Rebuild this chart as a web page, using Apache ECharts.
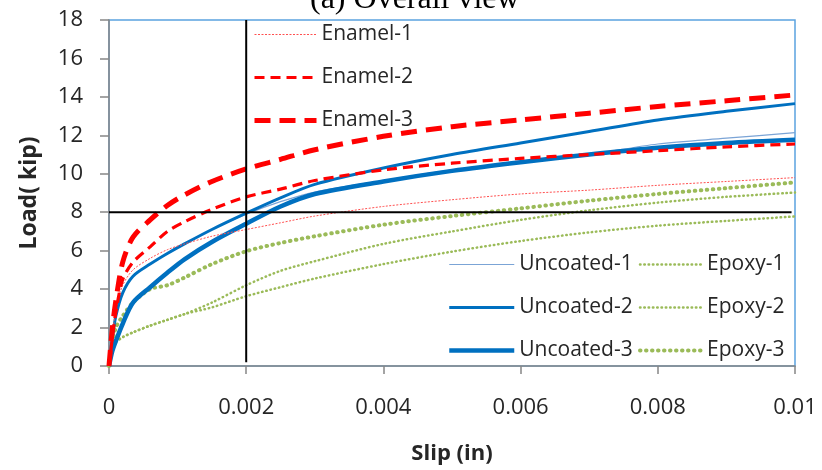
<!DOCTYPE html>
<html>
<head>
<meta charset="utf-8">
<script src="https://cdn.jsdelivr.net/npm/echarts@6/dist/echarts.min.js"></script>
<style>
html,body{margin:0;padding:0;background:#fff;}
#chart{width:822px;height:470px;}
</style>
</head>
<body>
<div id="chart"></div>
<script>
// ---- data (slip in inches, load in kip) ----
const slip = [0, 0.00005, 0.0001, 0.0002, 0.00035, 0.0006, 0.00085, 0.0011, 0.0015, 0.002, 0.0025, 0.003, 0.004, 0.005, 0.006, 0.007, 0.008, 0.009, 0.01];
const enamel1 = [0, 1.5, 3.0, 4.2, 5.0, 5.6, 6.05, 6.35, 6.75, 7.1, 7.45, 7.8, 8.3, 8.65, 8.95, 9.15, 9.4, 9.6, 9.8];
const enamel2 = [0, 1.5, 2.8, 4.5, 5.4, 6.2, 7.0, 7.5, 8.15, 8.8, 9.2, 9.65, 10.2, 10.55, 10.8, 11.0, 11.2, 11.4, 11.55];
const enamel3 = [0, 2.0, 3.4, 5.4, 6.7, 7.6, 8.35, 8.9, 9.6, 10.25, 10.75, 11.25, 11.95, 12.45, 12.8, 13.15, 13.5, 13.8, 14.1];
const uncoated1 = [0, 1.5, 2.6, 3.8, 4.67, 5.3, 5.85, 6.35, 7.1, 7.9, 8.55, 9.05, 9.65, 10.2, 10.6, 11.0, 11.55, 11.85, 12.14];
const uncoated2 = [0, 1.5, 2.6, 3.8, 4.67, 5.3, 5.85, 6.35, 7.1, 7.95, 8.75, 9.45, 10.3, 11.0, 11.6, 12.2, 12.8, 13.25, 13.65];
const uncoated3 = [0, 0.8, 1.3, 2.2, 3.3, 4.1, 4.85, 5.55, 6.45, 7.4, 8.3, 8.95, 9.6, 10.15, 10.6, 11.0, 11.35, 11.6, 11.77];
const epoxy1 = [0, 1.0, 1.25, 1.5, 1.75, 2.1, 2.4, 2.7, 3.05, 3.63, 4.1, 4.55, 5.3, 5.95, 6.5, 6.95, 7.3, 7.55, 7.78];
const epoxy2 = [0, 1.0, 1.25, 1.5, 1.75, 2.1, 2.4, 2.7, 3.3, 4.2, 4.95, 5.45, 6.35, 7.0, 7.6, 8.1, 8.5, 8.8, 9.02];
const epoxy3 = [0, 1.2, 2.0, 2.6, 3.3, 4.0, 4.2, 4.6, 5.3, 5.97, 6.4, 6.75, 7.35, 7.8, 8.2, 8.6, 8.95, 9.25, 9.55];
// reference cross lines
const refSlip = 0.002;
const refLoad = 8;
const vLineLoads = [0.2, 18];
const hLineSlips = [0, 0.00995];
const xTicks = ['0', '0.002', '0.004', '0.006', '0.008', '0.01'];
const enamelNames = ['Enamel-1', 'Enamel-2', 'Enamel-3'];
const uncoatedNames = ['Uncoated-1', 'Uncoated-2', 'Uncoated-3'];
const epoxyNames = ['Epoxy-1', 'Epoxy-2', 'Epoxy-3'];

const pair = ys => slip.map((x, i) => [x, ys[i]]);
const chart = echarts.init(document.getElementById('chart'));
const FONT = '"Open Sans", "Liberation Sans", sans-serif';
const RED = '#FF0000', BLUE = '#0070C0', GREEN = '#9BBB59';

function mk(name, ys, color, width, type, cap) {
  return {
    name, type: 'line', data: pair(ys), symbol: 'none', smooth: 0.3,
    lineStyle: { color, width, type, cap: cap || 'butt', join: 'round' }, itemStyle: { color },
    emphasis: { disabled: true }
  };
}

const series = [
  mk('Epoxy-1', epoxy1, GREEN, 2.5, [0.5, 3.8], 'round'),
  mk('Epoxy-2', epoxy2, GREEN, 2.5, [0.5, 3.8], 'round'),
  mk('Epoxy-3', epoxy3, GREEN, 4, [0.5, 5.5], 'round'),
  mk('Uncoated-1', uncoated1, '#7BA4D6', 1.2, 'solid'),
  mk('Uncoated-2', uncoated2, BLUE, 3, 'solid'),
  mk('Uncoated-3', uncoated3, BLUE, 4.5, 'solid'),
  mk('Enamel-1', enamel1, '#FF5050', 1, [2, 1.5]),
  mk('Enamel-2', enamel2, RED, 3.2, [10, 6]),
  mk('Enamel-3', enamel3, RED, 5, [16, 9]),
  { name: 'vref', type: 'line', symbol: 'none', z: 5, silent: true,
    data: vLineLoads.map(v => [refSlip, v]), lineStyle: { color: '#000', width: 2 } },
  { name: 'href', type: 'line', symbol: 'none', z: 5, silent: true,
    data: hLineSlips.map(x => [x, refLoad]), lineStyle: { color: '#000', width: 2 } }
];

const legendBase = {
  orient: 'vertical', padding: 0, itemHeight: 14, itemGap: 22,
  textStyle: { fontFamily: FONT, fontSize: 21, color: '#262626' },
  lineStyle: { width: 'inherit', type: 'inherit' },
  itemStyle: { opacity: 0 }, selectedMode: false
};

chart.setOption({
  animation: false,
  backgroundColor: '#fff',
  grid: { left: 109, right: 27, top: 20, bottom: 103, show: true, borderColor: '#5BA3E0', borderWidth: 1.5 },
  legend: [
    Object.assign({}, legendBase, { data: enamelNames, left: 252, top: 24, itemWidth: 62 }),
    Object.assign({}, legendBase, { data: uncoatedNames, left: 447, top: 254, itemWidth: 65 }),
    Object.assign({}, legendBase, { data: epoxyNames, left: 638, top: 254, itemWidth: 62 })
  ],
  xAxis: {
    type: 'value', min: 0, max: 0.01, interval: 0.002,
    name: 'Slip (in)', nameLocation: 'middle', nameGap: 77,
    nameTextStyle: { fontFamily: FONT, fontSize: 22, fontWeight: 'bold', color: '#262626' },
    axisLine: { show: true, onZero: false, lineStyle: { color: '#868686', width: 1.5 } },
    axisTick: { show: true, inside: false, length: 8, lineStyle: { color: '#868686', width: 1.5 } },
    axisLabel: { margin: 31, fontFamily: FONT, fontSize: 22, color: '#262626',
      formatter: (v) => xTicks[Math.round(v / 0.002)] },
    splitLine: { show: false }
  },
  yAxis: {
    type: 'value', min: 0, max: 18, interval: 2,
    name: 'Load( kip)', nameLocation: 'middle', nameGap: 68,
    nameTextStyle: { fontFamily: FONT, fontSize: 23, fontWeight: 'bold', color: '#262626' },
    axisLine: { show: true, onZero: false, lineStyle: { color: '#868686', width: 1.5 } },
    axisTick: { show: true, inside: false, length: 9, lineStyle: { color: '#868686', width: 1.5 } },
    axisLabel: { margin: 26, fontFamily: FONT, fontSize: 22, color: '#262626' },
    splitLine: { show: false }
  },
  graphic: [{
    type: 'text', left: 310, top: -16, silent: true,
    style: { text: '(a) Overall view', font: '32px "Liberation Serif", "Times New Roman", serif', fill: '#000' }
  }],
  series
});
</script>
</body>
</html>
